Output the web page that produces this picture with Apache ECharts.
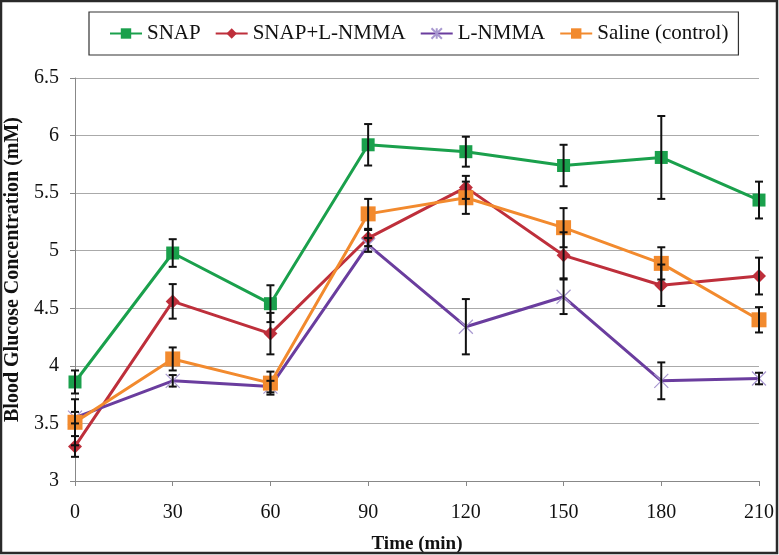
<!DOCTYPE html>
<html>
<head>
<meta charset="utf-8">
<script src="https://cdn.jsdelivr.net/npm/echarts@6/dist/echarts.min.js"></script>
<style>
html,body{margin:0;padding:0;background:#fff;}
#c{width:779px;height:555px;}
</style>
</head>
<body>
<div id="c"></div>
<script>
var times = [0, 30, 60, 90, 120, 150, 180, 210];
var seriesNames = ['SNAP', 'SNAP+L-NMMA', 'L-NMMA', 'Saline (control)'];
var snap      = [3.86, 4.98, 4.54, 5.92, 5.86, 5.74, 5.81, 5.44];
var snapErr   = [0.10, 0.12, 0.16, 0.18, 0.13, 0.18, 0.36, 0.16];
var snapL     = [3.30, 4.56, 4.28, 5.11, 5.55, 4.96, 4.70, 4.78];
var snapLErr  = [0.09, 0.15, 0.18, 0.07, 0.10, 0.20, 0.18, 0.16];
var lnmma     = [3.55, 3.87, 3.82, 5.05, 4.34, 4.60, 3.87, 3.89];
var lnmmaErr  = [0.05, 0.05, 0.05, 0.06, 0.24, 0.15, 0.16, 0.05];
var saline    = [3.51, 4.06, 3.85, 5.32, 5.46, 5.20, 4.89, 4.40];
var salineErr = [0.20, 0.10, 0.10, 0.13, 0.14, 0.17, 0.14, 0.11];
var yTicks = [3, 3.5, 4, 4.5, 5, 5.5, 6, 6.5];

var colors = ['#1aa04c', '#be2f3b', '#6a3d9e', '#f28a2e'];
var values = [snap, snapL, lnmma, saline];
var errs = [snapErr, snapLErr, lnmmaErr, salineErr];

function pairs(v) { return times.map(function (t, i) { return [t, v[i]]; }); }
function errData(v, e) { return times.map(function (t, i) { return [t, v[i] - e[i], v[i] + e[i]]; }); }

function errRender(params, api) {
  var x = api.value(0);
  var lo = api.coord([x, api.value(1)]);
  var hi = api.coord([x, api.value(2)]);
  var w = 4;
  var st = { stroke: '#111', lineWidth: 2 };
  return {
    type: 'group',
    children: [
      { type: 'line', shape: { x1: lo[0], y1: lo[1], x2: hi[0], y2: hi[1] }, style: st },
      { type: 'line', shape: { x1: lo[0] - w, y1: lo[1], x2: lo[0] + w, y2: lo[1] }, style: st },
      { type: 'line', shape: { x1: hi[0] - w, y1: hi[1], x2: hi[0] + w, y2: hi[1] }, style: st }
    ]
  };
}

var symbols = ['rect', 'diamond', 'path://M0 0L10 10M10 0L0 10M5 0L5 10', 'rect'];
var symSizes = [13, 14, 14, 15];

var series = [];
for (var k = 0; k < 4; k++) {
  series.push({
    type: 'custom',
    name: seriesNames[k] + ' err',
    renderItem: errRender,
    data: errData(values[k], errs[k]),
    encode: { x: 0, y: [1, 2] },
    z: 5,
    silent: true
  });
}
for (var j = 0; j < 4; j++) {
  var s = {
    type: 'line',
    name: seriesNames[j],
    data: pairs(values[j]),
    symbol: symbols[j],
    symbolSize: symSizes[j],
    showSymbol: true,
    lineStyle: { color: colors[j], width: 3 },
    itemStyle: { color: colors[j] },
    z: 3 + j * 0.1
  };
  if (j === 2) {
    s.itemStyle = { color: colors[j], borderColor: '#a898d0', borderWidth: 1.2 };
  }
  series.push(s);
}

var chart = echarts.init(document.getElementById('c'), null, { renderer: 'canvas' });
chart.setOption({
  animation: false,
  backgroundColor: '#fff',
  textStyle: { fontFamily: 'Liberation Serif' },
  graphic: [{
    type: 'rect', shape: { x: 1, y: 1, width: 776, height: 552 },
    style: { fill: 'none', stroke: '#2a2a2a', lineWidth: 2.5 }, z: 100, silent: true
  }],
  legend: {
    data: seriesNames,
    top: 12,
    left: 89,
    padding: [11, 10, 11, 20],
    borderColor: '#333',
    borderWidth: 1.2,
    itemGap: 14,
    itemWidth: 32,
    itemHeight: 13,
    textStyle: { fontFamily: 'Liberation Serif', fontSize: 21, color: '#111' }
  },
  grid: { left: 75, right: 20, top: 78, bottom: 74, outerBoundsMode: 'none', containLabel: false },
  xAxis: {
    type: 'value',
    min: 0, max: 210, interval: 30,
    name: 'Time (min)',
    nameLocation: 'middle',
    nameGap: 54,
    nameTextStyle: { fontFamily: 'Liberation Serif', fontSize: 19, fontWeight: 'bold', color: '#111' },
    axisLine: { show: true, lineStyle: { color: '#888', width: 1 } },
    axisTick: { show: true, length: 5, lineStyle: { color: '#888' } },
    axisLabel: { fontFamily: 'Liberation Serif', fontSize: 20, color: '#111', margin: 22 },
    splitLine: { show: false }
  },
  yAxis: {
    type: 'value',
    min: 3, max: 6.5, interval: 0.5,
    name: 'Blood Glucose Concentration (mM)',
    nameLocation: 'middle',
    nameGap: 44,
    nameTextStyle: { fontFamily: 'Liberation Serif', fontSize: 20, fontWeight: 'bold', color: '#111',
      padding: [0, 0, 0, 20] },
    axisLine: { show: true, lineStyle: { color: '#888', width: 1 } },
    axisTick: { show: true, length: 5, lineStyle: { color: '#888' } },
    axisLabel: { fontFamily: 'Liberation Serif', fontSize: 20, color: '#111', margin: 16,
      formatter: function (v) { return String(v); } },
    splitLine: { show: true, lineStyle: { color: '#aaa', width: 1.2 } }
  },
  series: series
});
</script>
</body>
</html>
